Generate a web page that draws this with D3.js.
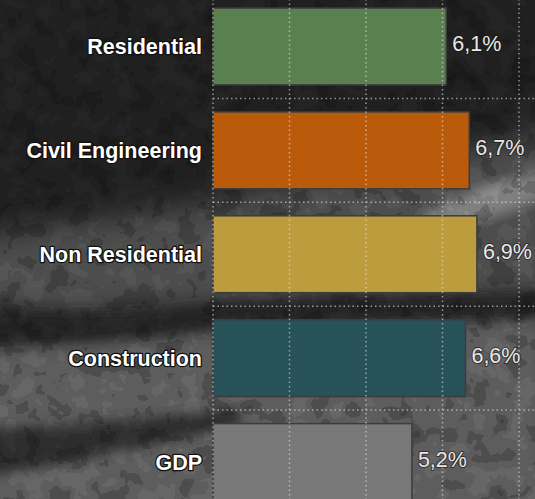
<!DOCTYPE html>
<html>
<head>
<meta charset="utf-8">
<script src="https://cdn.jsdelivr.net/npm/d3@7"></script>
<style>
  html, body { margin: 0; padding: 0; background: #222; }
  svg { display: block; }
</style>
</head>
<body>
<div id="chart"></div>
<script>
var categories = ["Residential", "Civil Engineering", "Non Residential", "Construction", "GDP"];
var values = [6.1, 6.7, 6.9, 6.6, 5.2];
var barColors = ["#5b8050", "#ba5b0c", "#bc9c3c", "#275259", "#787878"];
var gridTicks = [0, 2, 4, 6, 8];

var width = 535, height = 499;

var fmt = d3.formatLocale({ decimal: ",", thousands: ".", grouping: [3], currency: ["", "€"] }).format(".1f");

var svg = d3.select("#chart").append("svg")
  .attr("width", width)
  .attr("height", height);

var defs = svg.append("defs");

defs.append("filter").attr("id", "blur")
  .attr("x", "-20%").attr("y", "-20%").attr("width", "140%").attr("height", "140%")
  .append("feGaussianBlur").attr("stdDeviation", 14);

defs.append("filter").attr("id", "blurSmall")
  .attr("x", "-20%").attr("y", "-20%").attr("width", "140%").attr("height", "140%")
  .append("feGaussianBlur").attr("stdDeviation", 6);

// camouflage texture
var camo = defs.append("filter").attr("id", "camo")
  .attr("x", 0).attr("y", 0).attr("width", "100%").attr("height", "100%");
camo.append("feTurbulence")
  .attr("type", "fractalNoise")
  .attr("baseFrequency", 0.045)
  .attr("numOctaves", 3)
  .attr("seed", 7)
  .attr("result", "noise");
camo.append("feColorMatrix")
  .attr("in", "noise")
  .attr("type", "matrix")
  .attr("values", "0 0 0 0 0  0 0 0 0 0  0 0 0 0 0  1 0 0 0 0")
  .attr("result", "a");
var ct = camo.append("feComponentTransfer").attr("in", "a");
ct.append("feFuncA").attr("type", "discrete").attr("tableValues", "0.6 0.4 0.15 0 0");

// background
var bg = svg.append("g");
bg.append("rect").attr("width", width).attr("height", height).attr("fill", "#242424");

bg.append("path")
  .attr("d", "M-40,240 L200,205 L560,130 L560,300 L-40,315 Z")
  .attr("fill", "#555")
  .attr("filter", "url(#blur)");

bg.append("path")
  .attr("d", "M-40,345 L240,318 L560,305 L560,540 L-40,540 Z")
  .attr("fill", "#666")
  .attr("filter", "url(#blur)");

bg.append("path")
  .attr("d", "M-40,430 C60,425 150,420 240,408 L240,425 C150,445 60,465 -40,480 Z")
  .attr("fill", "#303030")
  .attr("filter", "url(#blurSmall)");

bg.append("path")
  .attr("d", "M-40,305 C80,320 160,310 240,300 L560,290 L560,318 L240,325 C160,338 60,345 -40,340 Z")
  .attr("fill", "#262626")
  .attr("filter", "url(#blurSmall)");

bg.append("ellipse")
  .attr("cx", 495).attr("cy", 200).attr("rx", 75).attr("ry", 16)
  .attr("transform", "rotate(-18 495 200)")
  .attr("fill", "#8c8c8c")
  .attr("filter", "url(#blurSmall)");

bg.append("rect").attr("width", width).attr("height", height)
  .attr("fill", "#000")
  .attr("filter", "url(#camo)")
  .attr("opacity", 0.6);

// scales
var x = d3.scaleLinear().domain([0, 8]).range([213, 519]);
var y = d3.scaleBand().domain(categories).range([-5.5, 514]).paddingInner(0.26).paddingOuter(0.13);
var step = y.step();

var data = categories.map(function (c, i) { return { name: c, value: values[i], color: barColors[i] }; });

// bars
svg.selectAll("rect.bar")
  .data(data)
  .enter()
  .append("rect")
  .attr("class", "bar")
  .attr("x", x(0))
  .attr("y", d => y(d.name))
  .attr("width", d => x(d.value) - x(0))
  .attr("height", y.bandwidth())
  .attr("fill", d => d.color)
  .attr("stroke", "#3c3c3c")
  .attr("stroke-width", 1.5);

// grid (drawn over bars)
var grid = svg.append("g")
  .attr("stroke", "rgba(225,225,225,0.6)")
  .attr("stroke-width", 1.5)
  .attr("stroke-dasharray", "1.5,3");

grid.selectAll("line.v")
  .data(gridTicks)
  .enter()
  .append("line")
  .attr("x1", d => x(d))
  .attr("x2", d => x(d))
  .attr("y1", y.range()[0])
  .attr("y2", y.range()[1]);

grid.selectAll("line.h")
  .data(categories.slice(1))
  .enter()
  .append("line")
  .attr("x1", x(0))
  .attr("x2", width)
  .attr("y1", d => y(d) - step * y.paddingInner() / 2)
  .attr("y2", d => y(d) - step * y.paddingInner() / 2);

// category labels
svg.selectAll("text.cat")
  .data(data)
  .enter()
  .append("text")
  .attr("class", "cat")
  .text(d => d.name)
  .attr("x", 202)
  .attr("y", d => y(d.name) + y.bandwidth() / 2)
  .attr("dy", "0.35em")
  .attr("text-anchor", "end")
  .attr("font-family", "Liberation Sans, Arial, sans-serif")
  .attr("font-weight", "bold")
  .attr("font-size", 21.5)
  .attr("fill", "#ffffff")
  .attr("stroke", "#111")
  .attr("stroke-width", 2.5)
  .attr("stroke-linejoin", "round")
  .attr("paint-order", "stroke");

// value labels
svg.selectAll("text.val")
  .data(data)
  .enter()
  .append("text")
  .attr("class", "val")
  .text(d => fmt(d.value) + "%")
  .attr("x", d => x(d.value) + 6)
  .attr("y", d => y(d.name) + y.bandwidth() / 2 - 3)
  .attr("dy", "0.35em")
  .attr("text-anchor", "start")
  .attr("font-family", "Liberation Sans, Arial, sans-serif")
  .attr("font-size", 21.5)
  .attr("fill", "#e8e8e8")
  .attr("stroke", "rgba(20,20,20,0.6)")
  .attr("stroke-width", 2)
  .attr("stroke-linejoin", "round")
  .attr("paint-order", "stroke");
</script>
</body>
</html>
